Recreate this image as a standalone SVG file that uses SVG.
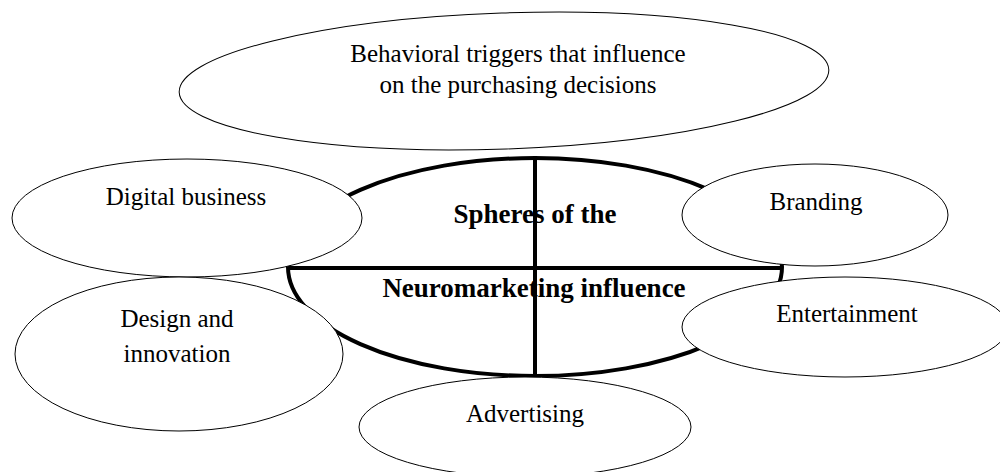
<svg xmlns="http://www.w3.org/2000/svg" width="1000" height="472" viewBox="0 0 1000 472">
<style>
.bg{fill:#ffffff}
.node{fill:#ffffff;stroke:#000000;stroke-width:1}
.core{fill:#ffffff;stroke:#000000;stroke-width:4}
.div{stroke:#000000;stroke-width:4;fill:none}
.t{font-family:"Liberation Serif","Times New Roman",serif;font-size:25px;fill:#000000;text-anchor:middle}
.b{font-family:"Liberation Serif","Times New Roman",serif;font-size:27px;font-weight:bold;fill:#000000;text-anchor:middle}
</style>
<rect class="bg" x="0" y="0" width="1000" height="472"/>
<g id="center">
<ellipse class="core" cx="535" cy="267" rx="247" ry="109"/>
<g id="connectors">
<line class="div" x1="288" y1="268" x2="782" y2="268"/>
<line class="div" x1="535" y1="158" x2="535" y2="376"/>
</g>
<text class="b" x="535" y="223">Spheres of the</text>
<text class="b" x="534" y="297">Neuromarketing influence</text>
</g>
<g id="triggers">
<ellipse class="node" cx="504" cy="81" rx="325" ry="68" transform="rotate(-2 504 81)"/>
<text class="t" x="518" y="62">Behavioral triggers that influence</text>
<text class="t" x="518" y="93">on the purchasing decisions</text>
</g>
<g id="digital">
<ellipse class="node" cx="187" cy="218" rx="175" ry="59"/>
<text class="t" x="186" y="205">Digital business</text>
</g>
<g id="design">
<ellipse class="node" cx="179" cy="354" rx="164" ry="77"/>
<text class="t" x="177" y="327">Design and</text>
<text class="t" x="177" y="362">innovation</text>
</g>
<g id="branding">
<ellipse class="node" cx="815" cy="215" rx="133" ry="51"/>
<text class="t" x="816" y="210">Branding</text>
</g>
<g id="entertainment">
<ellipse class="node" cx="845" cy="327" rx="163" ry="50"/>
<text class="t" x="847" y="322">Entertainment</text>
</g>
<g id="advertising">
<ellipse class="node" cx="525" cy="427" rx="166" ry="50"/>
<text class="t" x="525" y="422">Advertising</text>
</g>
</svg>
